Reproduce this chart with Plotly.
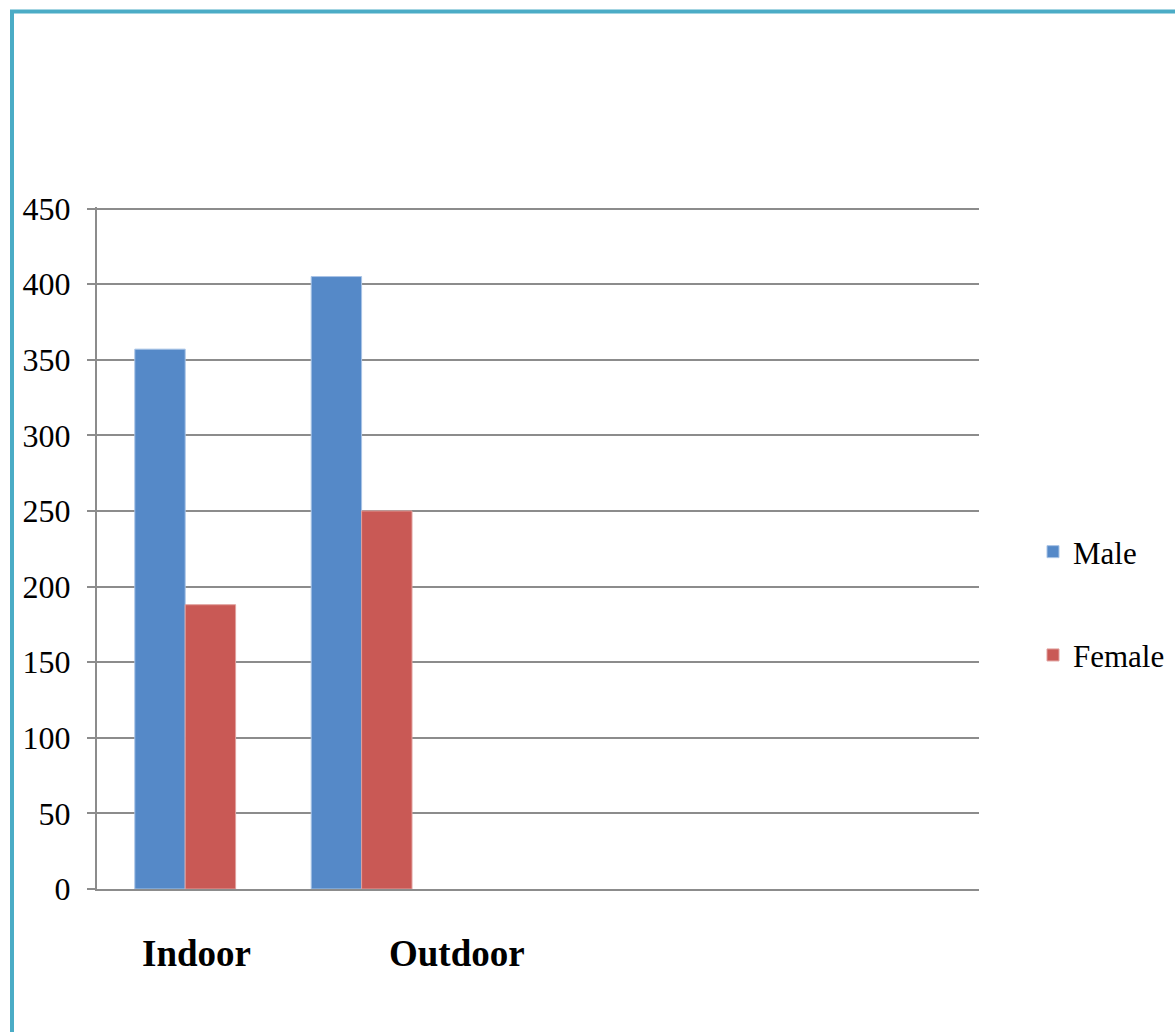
import plotly.graph_objects as go

# Data
positions = [0, 1]
categories = ["Indoor", "Outdoor"]
male = [357, 405]
female = [188, 250]
y_ticks = [0, 50, 100, 150, 200, 250, 300, 350, 400, 450]

BLUE = "#5589C8"
RED = "#C95955"
GRID = "#8C8C8C"
TEAL = "#4BACC6"
FONT = "Liberation Serif, Times New Roman, serif"

fig = go.Figure()
fig.add_trace(go.Bar(x=positions, y=male, name="Male", marker=dict(color=BLUE, line=dict(color="#A9C4E6", width=1)),
                     legendgroup="m"))
fig.add_trace(go.Bar(x=positions, y=female, name="Female", marker=dict(color=RED, line=dict(color="#E0A09E", width=1)),
                     legendgroup="f"))

L, R, T, B = 97, 1175 - 979, 207, 1032 - 889
W = 1175 - L - R
H = 1032 - T - B

fig.update_layout(
    width=1175, height=1032,
    margin=dict(l=L, r=R, t=T, b=B, pad=0, autoexpand=False),
    paper_bgcolor="white", plot_bgcolor="white",
    barmode="group", bargap=1.5 / 3.5, bargroupgap=0,
    font=dict(family=FONT, size=32, color="black"),
    showlegend=True,
    legend=dict(
        x=(1033 - L) / W, xanchor="left",
        y=(889 - 603.5) / H, yanchor="middle",
        traceorder="grouped", tracegroupgap=60,
        font=dict(family=FONT, size=31, color="black"),
        bgcolor="rgba(0,0,0,0)",
    ),
    xaxis=dict(
        range=[-0.5, 4.5], showticklabels=False, ticks="",
        showgrid=False, zeroline=False,
        showline=True, linecolor=GRID, linewidth=2,
    ),
    yaxis=dict(
        range=[0, 451], tickvals=y_ticks,
        ticks="outside", ticklen=8, tickcolor=GRID, tickwidth=2,
        ticklabelstandoff=10,
        showgrid=True, gridcolor=GRID, gridwidth=2,
        zeroline=False, showline=True, linecolor=GRID, linewidth=2,
        tickfont=dict(family=FONT, size=32, color="black"),
    ),
)

# Category labels (offset text boxes, as in the reference)
label_x = [(196 - L) / (W / 5) - 0.5, (457 - L) / (W / 5) - 0.5]
for cx, name in zip(label_x, categories):
    fig.add_annotation(x=cx, xref="x", y=(889 - 954) / H, yref="paper",
                       text="<b>%s</b>" % name, showarrow=False,
                       font=dict(family=FONT, size=37, color="black"),
                       xanchor="center", yanchor="middle")

# Teal frame (cropped on the right and bottom)
fig.add_shape(type="rect", xref="paper", yref="paper",
              x0=(12 - L) / W, x1=(1200 - L) / W,
              y0=(889 - 1060) / H, y1=(889 - 11.5) / H,
              line=dict(color=TEAL, width=4), fillcolor="rgba(0,0,0,0)", layer="above")

fig.write_html("out.html")
